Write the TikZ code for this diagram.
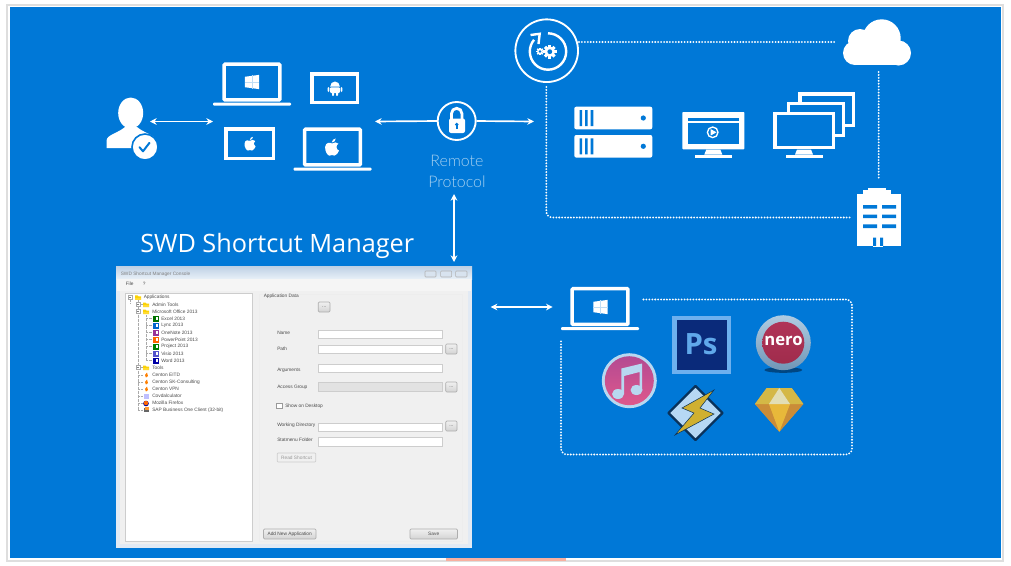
\documentclass[tikz,border=0pt]{standalone}
\usepackage{fontspec}
\setmainfont{Liberation Sans}
\newfontfamily\titlefont{Open Sans}
\newfontfamily\thinfont{Lato Light}
\usetikzlibrary{arrows.meta}
\definecolor{bg}{RGB}{0,120,215}
\definecolor{frameg}{RGB}{222,222,222}
\definecolor{soft}{RGB}{165,208,240}
\definecolor{panel}{RGB}{240,240,240}
\definecolor{edge}{RGB}{205,205,205}
\definecolor{uitext}{RGB}{75,75,75}
\definecolor{winedge}{RGB}{226,234,244}
\definecolor{bartop}{RGB}{190,208,228}
\definecolor{barbot}{RGB}{232,240,248}
\definecolor{treeline}{RGB}{170,170,170}
\definecolor{pslight}{RGB}{110,176,238}
\definecolor{psdark}{RGB}{10,42,122}
\definecolor{pstext}{RGB}{96,168,234}
\definecolor{nerotop}{RGB}{176,52,88}
\definecolor{nerobot}{RGB}{160,44,76}
\definecolor{nerorima}{RGB}{176,204,226}
\definecolor{nerorimb}{RGB}{112,150,182}
\definecolor{neroshade}{RGB}{0,70,130}
\definecolor{itop}{RGB}{180,74,146}
\definecolor{ibot}{RGB}{222,88,140}
\definecolor{iring}{RGB}{184,216,240}
\definecolor{wamp}{RGB}{10,50,90}
\definecolor{wampf}{RGB}{182,216,244}
\definecolor{wampy}{RGB}{208,176,48}
\definecolor{gemside}{RGB}{214,160,60}
\definecolor{gemtopl}{RGB}{212,184,70}
\definecolor{gemtop}{RGB}{226,222,180}
\definecolor{gemmid}{RGB}{232,184,58}
\definecolor{gemlow}{RGB}{202,140,56}
\definecolor{pinkbar}{RGB}{248,176,160}
\tikzset{
  x=0.75pt,y=-0.75pt,
  dbl/.style={draw=white,line width=1.25pt,{Stealth[length=5pt,width=5pt]}-{Stealth[length=5pt,width=5pt]}},
  sgl/.style={draw=white,line width=1.25pt,-{Stealth[length=5pt,width=5pt]}},
  dotline/.style={draw=white,line width=1.55pt,line cap=round,dash pattern=on 0pt off 2.2pt,rounded corners=4.5pt},
  wire/.style={draw=white,line width=2.6pt},
  ring/.style={circle,draw=white,line width=1.4pt,inner sep=0pt,fill=bg},
  ui/.style={font=\fontsize{3.6}{4}\selectfont,text=uitext,inner sep=0pt,anchor=west},
  field/.style={draw=edge,fill=white,line width=.4pt},
  dfield/.style={draw=edge,fill=panel!94!black,line width=.4pt},
  btn/.style={draw=edge!85!black,line width=.5pt,rounded corners=.8pt,top color=panel,bottom color=panel!88!black},
  winbtn/.style={draw=black!30,line width=.4pt,fill=bartop!60!white,rounded corners=.6pt},
  pics/winlogo/.style={code={
    \fill[white] (-7.5,-5.5) -- (7.5,-7.5) -- (7.5,7.5) -- (-7.5,5.5) -- cycle;
    \draw[bg!25!white,line width=.2pt] (0,-7) -- (0,7) (-7.5,0) -- (7.5,0);
  }},
  pics/apple/.style={code={
    \fill[white] (0,-3.2) .. controls (-1.5,-4.2) and (-5,-4.3) .. (-5.5,-0.5) .. controls (-5.8,3) and (-3.5,6.5) .. (-2,6.5) .. controls (-1,6.5) and (-1,6) .. (0,6) .. controls (1,6) and (1,6.5) .. (2,6.5) .. controls (3.5,6.5) and (5,4) .. (5.6,2.5) .. controls (3,1.5) and (3,-2) .. (5.2,-3) .. controls (4,-4.6) and (1.5,-4.2) .. (0,-3.2) -- cycle;
    \fill[white] (-.2,-4) .. controls (-.2,-6) and (1.5,-7) .. (3,-7.2) .. controls (3,-5.5) and (1.5,-4) .. (-.2,-4) -- cycle;
  }},
  pics/android/.style={code={
    \fill[white] (-4.8,-1.5) arc[start angle=180,end angle=360,x radius=4.8,y radius=5] -- cycle;
    \fill[white,rounded corners=.7pt] (-4.8,-.7) rectangle (4.8,5);
    \fill[white,rounded corners=.7pt] (-3,4) rectangle (-1,8);
    \fill[white,rounded corners=.7pt] (1,4) rectangle (3,8);
    \fill[white,rounded corners=.7pt] (-7.3,-1) rectangle (-5.6,4);
    \fill[white,rounded corners=.7pt] (5.6,-1) rectangle (7.3,4);
  }},
  pics/laptop/.style={code={
    \draw[white,line width=2.6pt,rounded corners=.6pt] (-27.8,-17.8) rectangle (27.8,17.8);
    \fill[white,rounded corners=.7pt] (-39,20.7) rectangle (39,23.5);
  }},
  pics/monstand/.style={code={
    \fill[white] (-7,0) -- (7,0) -- (9,5) -- (-9,5) -- cycle;
    \fill[white] (-18.5,5.5) rectangle (18.5,8);
  }},
  pics/server/.style={code={
    \fill[white,rounded corners=1.5pt] (-39,-11.3) rectangle (39,11.3);
    \fill[bg] (-33.8,-8) rectangle (-31.3,8) (-28.3,-8) rectangle (-25.8,8) (-22.6,-8) rectangle (-20,8);
    \fill[bg] (30,0) circle[radius=2.6];
  }},
  pics/gear/.style={code={
    \foreach \a in {0,45,...,315}{\fill[white,rotate=\a] (-1.4,-6.2) rectangle (1.4,0);}
    \fill[white] (0,0) circle[radius=4.8];
    \fill[bg] (0,0) circle[radius=2.2];
  }},
  pics/folder/.style={code={
    \fill[yellow!70!orange] (-3,-2) -- (-.5,-2) -- (.3,-1) -- (3,-1) -- (3,2.5) -- (-3,2.5) -- cycle;
    \fill[orange!35!yellow!80!white] (-3,.2) rectangle (3,2.5);
  }},
  pics/ticon/.style={code={
    \fill[#1] (-3,-3) rectangle (3,3);
    \fill[white] (.5,-1.6) rectangle (2.3,1.6);
  }},
}
\begin{document}
\begin{tikzpicture}
\useasboundingbox (0,0) rectangle (1011,565);
\fill[white] (0,0) rectangle (1011,565);
\draw[frameg,line width=.8pt] (7,5) rectangle (1003,561);
\fill[bg] (9.5,7) rectangle (1001,558);
\fill[pinkbar] (446,558.2) rectangle (566,560.5);

% ---- user
\fill[white] (130.7,113) ellipse[x radius=12.5,y radius=15.5];
\fill[white] (106.7,148) -- (106.7,140) .. controls (107,135) and (118,133) .. (125,127) -- (137,127) .. controls (144,133) and (155,135) .. (155.5,140) -- (155.5,148) -- cycle;
\node[circle,fill=white,draw=bg,line width=1.2pt,minimum size=19.5pt,inner sep=0pt] (user) at (145,147) {};
\draw[bg,line width=1.5pt,line cap=round,line join=round] (139.5,147.2) -- (143,151.3) -- (149.5,142.8);
\coordinate (userE) at (150,121.5);
\coordinate (devW) at (213,121.5);
\draw[dbl] (userE) -- (devW);

% ---- devices
\pic at (252,82) {laptop};
\pic[scale=.95] at (252,82) {winlogo};
\draw[wire] (311.8,73.8) rectangle (357.3,102.3);
\pic at (335,88) {android};
\draw[wire] (225.8,128.8) rectangle (273.3,158.3);
\pic[scale=1] at (250,144) {apple};
\pic at (332.5,147) {laptop};
\pic[scale=1.25] at (332,147.5) {apple};

% ---- lock
\node[ring,minimum size=28.5pt] (lock) at (456.7,121) {};
\fill[white,rounded corners=1.5pt] (449,118.5) rectangle (465,133);
\draw[white,line width=2.1pt] (451.5,119) -- (451.5,113.5) arc[start angle=180,end angle=360,radius=5.2] -- (461.9,119);
\fill[bg] (456.7,124.5) circle[radius=1.9];
\fill[bg] (455.9,125) rectangle (457.5,129);
\coordinate (devE) at (375,121.5);
\coordinate (infraW) at (534,121.5);
\draw[sgl] (lock.west) -- (devE);
\draw[sgl] (lock.east) -- (infraW);
\node[font=\thinfont\fontsize{12}{12}\selectfont,text=soft,inner sep=0pt] (rem) at (457,161) {Remote};
\node[font=\thinfont\fontsize{12}{12}\selectfont,text=soft,inner sep=0pt] (pro) at (457,182) {Protocol};
\coordinate (lockS) at (454,194);
\coordinate (winN) at (454,262);
\draw[dbl] (lockS) -- (winN);

% ---- refresh
\node[ring,minimum size=47pt] (cycle) at (546.7,50.7) {};
\draw[white,line width=1.8pt] (548,33.3) arc[start angle=-90,end angle=220,radius=18.2];
\draw[white,line width=1.8pt,line join=miter] (530.5,35) -- (539.7,33.8) -- (538.5,44);
\pic[scale=1.1] at (549.8,51.7) {gear};
\pic[scale=.62] at (540,51.5) {gear};

% ---- cloud
\fill[white] (881.7,38.3) circle[radius=19] (860,41) circle[radius=12] (855,53) circle[radius=12] (898.5,53) circle[radius=12.5];
\fill[white] (855,42) rectangle (898.5,65);
\coordinate (cloud) at (877,42);
\coordinate (cloudW) at (837,42);
\coordinate (cloudS) at (878.7,72);
\coordinate (cycE) at (579,42);
\draw[dotline] (cycE) -- (cloudW);

% ---- building
\fill[white] (868,187.5) rectangle (886,195);
\fill[white] (863,190) rectangle (891,196);
\fill[white] (857,194) rectangle (900.7,246);
\fill[bg] (863,205) rectangle (877,208.5) (882,205) rectangle (896,208.5) (863,214.6) rectangle (877,218) (882,214.6) rectangle (896,218) (863,224.3) rectangle (877,228) (882,224.3) rectangle (896,228);
\fill[bg] (873,237.5) rectangle (876,246) (880,237.5) rectangle (883,246);
\draw[white,line width=.5pt] (873,246.5) -- (883,246.5);
\coordinate (bldN) at (878.7,178);
\coordinate (bldW) at (850.7,217.5);
\coordinate (cycS) at (546.3,87);
\draw[dotline] (cloudS) -- (bldN);
\draw[dotline] (cycS) -- (546.3,217.5) -- (bldW);

% ---- servers, monitors
\pic at (613.3,118) {server};
\pic at (613.3,146.3) {server};
\fill[white,rounded corners=.6pt] (682.3,112) rectangle (744.3,149.3);
\fill[bg] (687.5,117.5) rectangle (739,143.5);
\fill[white] (687.5,120.5) rectangle (739,122.6);
\draw[white,line width=1pt] (712.7,132.3) circle[radius=5.3];
\fill[white] (710.5,129) -- (716.5,132.3) -- (710.5,135.6) -- cycle;
\pic at (713.3,149.5) {monstand};
\draw[white,line width=2.5pt] (799.9,93.9) rectangle (853.4,125.2);
\fill[bg] (788.4,103.6) rectangle (843.4,135.2);
\draw[white,line width=2.5pt] (788.4,103.6) rectangle (843.4,135.2);
\fill[bg] (775,113.7) rectangle (833.5,147.5);
\draw[white,line width=2.5pt] (775,113.7) rectangle (833.5,147.5);
\pic at (804,149.5) {monstand};

% ---- title
\node[font=\titlefont\fontsize{18.95}{20}\selectfont,text=white,inner sep=0pt,anchor=west] (title) at (140,245.5) {SWD Shortcut Manager};

% ---- window
\fill[winedge] (116,266) rectangle (472,548);
\shade[top color=bartop,bottom color=barbot] (116,266) rectangle (472,279);
\fill[white!96!black] (117,279) rectangle (471,291);
\fill[panel] (120,291) rectangle (468,544);
\draw[black!7,line width=.4pt] (259,294) rectangle (462,541);
\node[ui,text=black!50] (wtitle) at (120.5,274) {SWD Shortcut Manager Console};
\node[ui] (mfile) at (125.5,284) {File};
\node[ui] (mq) at (142.5,284) {?};
\draw[winbtn] (425,271) rectangle (436,277);
\draw[winbtn] (440.7,271) rectangle (451.7,277);
\draw[winbtn] (455.7,271) rectangle (467,277);

% tree
\draw[edge,fill=white,line width=.5pt] (125,293.7) rectangle (252.7,541);
\draw[treeline,line width=.25pt,dash pattern=on .5pt off .5pt] (130,300) -- (130,304) (138,300) -- (138,410) (138,304.5) -- (143,304.5) (138,367.5) -- (143,367.5) (138,375) -- (143,375) (138,382) -- (143,382) (138,389) -- (143,389) (138,396) -- (143,396) (138,403) -- (143,403) (138,410) -- (143,410) (146,315) -- (146,360.5) (146,318.5) -- (152,318.5) (146,325.5) -- (152,325.5) (146,332.5) -- (152,332.5) (146,339.5) -- (152,339.5) (146,346.5) -- (152,346.5) (146,353.5) -- (152,353.5) (146,360.5) -- (152,360.5);
\foreach \yy in {297.3,304.5,311.5,367.5}{\pgfmathsetmacro{\xx}{\yy<300?130:138}\fill[white] (\xx-2,\yy-2) rectangle (\xx+2,\yy+2);\draw[treeline,line width=.25pt] (\xx-2,\yy-2) rectangle (\xx+2,\yy+2);\draw[black!50,line width=.25pt] (\xx-1.2,\yy) -- (\xx+1.2,\yy);}
\pic at (138,297.3) {folder};
\pic at (146,304.5) {folder};
\pic at (146,311.5) {folder};
\pic at (146,367.5) {folder};
\node[ui] (t1) at (143.5,297.3) {Applications};
\node[ui] (t2) at (152,304.5) {Admin Tools};
\node[ui] (t3) at (152,311.5) {Microsoft Office 2013};
\pic at (155.5,318.5) {ticon={green!45!black}};
\pic at (155.5,325.5) {ticon={blue!50!cyan!80!black}};
\pic at (155.5,332.5) {ticon={violet!80!white}};
\pic at (155.5,339.5) {ticon={orange!80!red}};
\pic at (155.5,346.5) {ticon={green!50!black}};
\pic at (155.5,353.5) {ticon={blue!60!white!80!black}};
\pic at (155.5,360.5) {ticon={blue!65!black}};
\node[ui] (a1) at (161,318.5) {Excel 2013};
\node[ui] (a2) at (161,325.5) {Lync 2013};
\node[ui] (a3) at (161,332.5) {OneNote 2013};
\node[ui] (a4) at (161,339.5) {PowerPoint 2013};
\node[ui] (a5) at (161,346.5) {Project 2013};
\node[ui] (a6) at (161,353.5) {Visio 2013};
\node[ui] (a7) at (161,360.5) {Word 2013};
\node[ui] (t4) at (152,367.5) {Tools};
\foreach \yy in {375,382,389}{\fill[orange] (147,\yy-2.5) -- (145,\yy) -- (146,\yy+2.5) -- (148,\yy+1) -- cycle;}
\fill[blue!25!white] (143.5,393.5) rectangle (148.5,398.5);
\fill[blue!60!black] (146,403.5) circle[radius=2.8];
\fill[orange!80!red] (146,403) circle[radius=2.2];
\fill[black!60] (143.5,408) rectangle (148.5,412);
\fill[orange!80] (145,407) rectangle (149,410);
\node[ui] (c1) at (152,375) {Centon EITD};
\node[ui] (c2) at (152,382) {Centon SK-Consulting};
\node[ui] (c3) at (152,389) {Centon VPN};
\node[ui] (c4) at (152,396) {Covdalculator};
\node[ui] (c5) at (152,403) {Mozilla Firefox};
\node[ui] (c6) at (152,410) {SAP Business One Client (32-bit)};

% right form
\node[ui] (appdata) at (263.5,296) {Application Data};
\draw[btn] (318.3,302) rectangle (330,312);
\node[ui] (bd0) at (324.2,307.5) [anchor=center] {...};
\node[ui] (lname) at (277,333) {Name};
\draw[field] (318.3,330.3) rectangle (442.3,338.7);
\node[ui] (lpath) at (277,349) {Path};
\draw[field] (318.3,345.3) rectangle (442.3,353.7);
\draw[btn] (445.7,344) rectangle (457,354);
\node[ui] (bd1) at (451.3,349.5) [anchor=center] {...};
\node[ui] (larg) at (277,370) {Arguments};
\draw[field] (318.3,364) rectangle (442.3,372.5);
\node[ui] (lacc) at (277,387) {Access Group};
\draw[dfield] (318.3,382.7) rectangle (442.3,391.3);
\draw[btn] (445.7,382) rectangle (457,392);
\node[ui] (bd2) at (451.3,387.5) [anchor=center] {...};
\draw[field,draw=black!40] (276.7,403.7) rectangle (282,408.7);
\node[ui] (lshow) at (285,406) {Show on Desktop};
\node[ui] (lwork) at (277,425.7) {Working Directory};
\draw[field] (318.3,423) rectangle (442.3,431);
\draw[btn] (445.7,421) rectangle (457,431);
\node[ui] (bd3) at (451.3,426.5) [anchor=center] {...};
\node[ui] (lstart) at (277,440) {Statmenu Folder};
\draw[field] (318.3,437.7) rectangle (442.3,446);
\draw[edge,fill=panel,line width=.5pt,rounded corners=.6pt] (277.3,453) rectangle (315.7,462);
\node[ui,text=black!40,anchor=center] (lread) at (296.5,457.5) {Read Shortcut};
\draw[btn] (263.5,529) rectangle (316,539);
\node[ui,anchor=center] (ladd) at (289.7,534) {Add New Application};
\draw[btn] (410,529) rectangle (457.5,539);
\node[ui,anchor=center] (lsave) at (433.7,534) {Save};

% ---- lower right
\coordinate (winE) at (490.7,307);
\coordinate (lapW) at (552.7,307);
\draw[dbl] (winE) -- (lapW);
\pic at (600,306.5) {laptop};
\pic[scale=.95] at (600.5,307) {winlogo};
\coordinate (apS) at (643.5,299.5);
\coordinate (apE) at (561,341);
\draw[dotline] (apS) -- (852,299.5) -- (852,454.5) -- (561,454.5) -- (apE);

% photoshop
\fill[pslight] (672,315.7) rectangle (730.7,373.7);
\fill[psdark] (676.7,320) rectangle (726.7,370);
\node[font=\titlefont\bfseries\fontsize{22}{24}\selectfont,text=pstext,inner sep=0pt] (ps) at (701,344) {Ps};

% nero
\fill[neroshade] (783.3,370) ellipse[x radius=19,y radius=2.8];
\shade[top color=nerorima,bottom color=nerorimb] (783.3,342.7) circle[radius=27.5];
\shade[top color=nerotop,bottom color=nerobot] (783.3,342.7) circle[radius=21];
\node[font=\titlefont\bfseries\fontsize{12.5}{13}\selectfont,text=white,inner sep=0pt] (nero) at (783.5,341) {nero};

% itunes
\fill[iring] (629.3,380.7) circle[radius=27.5];
\shade[top color=itop,bottom color=ibot] (629.3,380.7) circle[radius=24.5];
\fill[iring] (618,394) ellipse[x radius=6,y radius=5] (636.5,390) ellipse[x radius=6,y radius=5];
\fill[iring] (621.3,368.5) -- (642,363.5) -- (642,390) -- (639.5,390) -- (639.5,372) -- (624,376) -- (624,394) -- (621.3,394) -- cycle;

% winamp
\draw[wamp,fill=wampf,line width=1.8pt,line join=round] (695.5,386) -- (722.5,413) -- (695.5,440) -- (668.5,413) -- cycle;
\fill[wampy,draw=wamp,line width=.4pt] (714,390) -- (682,408) -- (694,413) -- (675,435) -- (714,414) -- (700,408) -- cycle;

% sketch
\fill[gemside] (766.7,388) -- (791.7,388) -- (803.3,404) -- (779.3,431.7) -- (755,404) -- cycle;
\fill[gemlow] (755,404) -- (769,404) -- (779.3,431.7) -- cycle;
\fill[gemlow] (803.3,404) -- (790,404) -- (779.3,431.7) -- cycle;
\fill[gemmid] (769,404) -- (790,404) -- (779.3,431.7) -- cycle;
\fill[gemtopl] (766.7,388) -- (779.3,388) -- (769,404) -- (755,404) -- cycle;
\fill[gemtopl] (779.3,388) -- (791.7,388) -- (803.3,404) -- (790,404) -- cycle;
\fill[gemtop] (779.3,388) -- (790,404) -- (769,404) -- cycle;
\end{tikzpicture}
\end{document}
